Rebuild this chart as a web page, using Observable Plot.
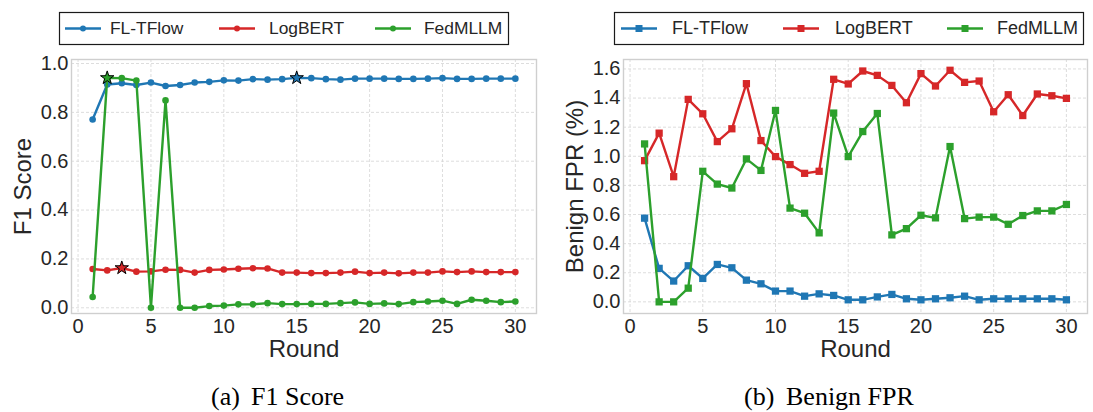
<!DOCTYPE html>
<html><head><meta charset="utf-8">
<script src="https://cdn.jsdelivr.net/npm/d3@7"></script>
<script src="https://cdn.jsdelivr.net/npm/@observablehq/plot@0.6"></script>
<style>
html,body{margin:0;padding:0;background:#fff;}
#root{position:relative;width:1093px;height:412px;overflow:hidden;background:#fff;}
#root > *{position:absolute;}
</style></head><body><div id="root"></div>
<script>
// ---- data ----
const rounds = [1,2,3,4,5,6,7,8,9,10,11,12,13,14,15,16,17,18,19,20,21,22,23,24,25,26,27,28,29,30];
const methods = ["FL-TFlow", "LogBERT", "FedMLLM"];
const colors = ["#1f77b4", "#d62728", "#2ca02c"];

const f1FLTFlow = [0.771,0.914,0.919,0.912,0.922,0.908,0.912,0.922,0.925,0.931,0.930,0.936,0.934,0.936,0.941,0.940,0.936,0.934,0.938,0.938,0.938,0.937,0.937,0.938,0.940,0.937,0.937,0.938,0.938,0.938];
const f1LogBERT = [0.159,0.153,0.163,0.148,0.149,0.156,0.155,0.144,0.155,0.157,0.160,0.162,0.161,0.144,0.144,0.142,0.142,0.144,0.148,0.142,0.144,0.141,0.144,0.144,0.149,0.146,0.149,0.146,0.146,0.146];
const f1FedMLLM = [0.044,0.941,0.940,0.930,0.000,0.849,0.000,0.000,0.007,0.009,0.014,0.014,0.019,0.015,0.015,0.016,0.016,0.019,0.022,0.016,0.018,0.015,0.023,0.026,0.029,0.016,0.033,0.029,0.023,0.026];
const bestF1Round = [15, 3, 2]; // starred rounds, one per method

const fprFLTFlow = [0.575,0.230,0.143,0.248,0.161,0.257,0.234,0.149,0.124,0.074,0.074,0.039,0.055,0.044,0.014,0.014,0.034,0.051,0.021,0.014,0.021,0.028,0.039,0.014,0.021,0.021,0.021,0.021,0.021,0.014];
const fprLogBERT = [0.970,1.159,0.860,1.391,1.292,1.101,1.189,1.499,1.108,0.998,0.943,0.883,0.897,1.529,1.497,1.586,1.556,1.487,1.368,1.568,1.483,1.591,1.508,1.517,1.306,1.423,1.280,1.428,1.416,1.398];
const fprFedMLLM = [1.085,0.000,0.000,0.094,0.897,0.809,0.782,0.982,0.903,1.315,0.644,0.609,0.474,1.297,0.998,1.170,1.294,0.460,0.503,0.595,0.577,1.067,0.572,0.582,0.582,0.533,0.593,0.625,0.625,0.669];

const xTicks = [0,5,10,15,20,25,30];
const f1Ticks = [0.0,0.2,0.4,0.6,0.8,1.0];
const fprTicks = [0.0,0.2,0.4,0.6,0.8,1.0,1.2,1.4,1.6];

const f1Series = [f1FLTFlow, f1LogBERT, f1FedMLLM];
const fprSeries = [fprFLTFlow, fprLogBERT, fprFedMLLM];

// ---- helpers ----
const root = d3.select("#root");
const SANS = "'Liberation Sans', Arial, sans-serif";
const SERIF = "'Liberation Serif', 'Times New Roman', serif";
const INK = "#262626";

function panel({series, ticks, yDomain, yLabel, symbol, r, left, width, marginLeft, marginRight, stars}) {
  const rows = series.map((vals, k) => rounds.map((rd, i) => ({round: rd, value: vals[i], method: methods[k]})));
  const marks = [
    Plot.gridX(xTicks, {stroke: "#d4d4d4", strokeOpacity: 1, strokeWidth: 0.8, strokeDasharray: "3,2"}),
    Plot.gridY(ticks, {stroke: "#d4d4d4", strokeOpacity: 1, strokeWidth: 0.8, strokeDasharray: "3,2"}),
    Plot.frame({stroke: "#cfcfcf", strokeWidth: 1.4}),
    Plot.axisX({ticks: xTicks, tickSize: 0, tickPadding: 5, fontSize: 20, label: null, tickFormat: d3.format("d")}),
    Plot.axisY({ticks: ticks, tickSize: 0, tickPadding: 3, fontSize: 20, label: null, tickFormat: d3.format(".1f")})
  ];
  rows.forEach((d, k) => {
    marks.push(Plot.line(d, {x: "round", y: "value", stroke: colors[k], strokeWidth: 2.4}));
    marks.push(Plot.dot(d, {x: "round", y: "value", symbol, r, fill: colors[k], stroke: "none"}));
  });
  if (stars) {
    rows.forEach((d, k) => {
      marks.push(Plot.dot(d.filter(p => p.round === stars[k]), {x: "round", y: "value", symbol: "star", r: 4.2, fill: colors[k], stroke: "black", strokeWidth: 1}));
    });
  }
  marks.push(Plot.text([yLabel], {frameAnchor: "left", rotate: -90, textAnchor: "middle", lineAnchor: "bottom", dx: -41, fontSize: 24, fill: INK}));
  marks.push(Plot.text(["Round"], {frameAnchor: "bottom", textAnchor: "middle", lineAnchor: "bottom", dy: 43, fontSize: 24, fill: INK}));
  const chart = Plot.plot({
    width, height: 322,
    marginTop: 9, marginBottom: 59, marginLeft, marginRight,
    style: {fontFamily: SANS, fontSize: "20px", color: INK, background: "transparent", overflow: "visible"},
    x: {type: "linear", domain: [-0.45, 31.45]},
    y: {type: "linear", domain: yDomain},
    marks
  });
  d3.select(chart).style("position", "absolute").style("left", left + "px").style("top", "50px");
  root.node().appendChild(chart);
}

panel({series: f1Series, ticks: f1Ticks, yDomain: [-0.0234, 1.0164], yLabel: "F1 Score", symbol: "circle", r: 3.3,
       left: 0, width: 546, marginLeft: 71, marginRight: 10, stars: bestF1Round});
panel({series: fprSeries, ticks: fprTicks, yDomain: [-0.08, 1.665], yLabel: "Benign FPR (%)", symbol: "square", r: 4.1,
       left: 546, width: 547, marginLeft: 77, marginRight: 6, stars: null});

// ---- legends ----
function legend({x, w, lineX, textX, fontSize, marker}) {
  const svg = root.append("svg").attr("width", w + 2).attr("height", 36)
    .style("left", (x - 1) + "px").style("top", "11px");
  svg.append("rect").attr("x", 1.5).attr("y", 1.5).attr("width", w - 1).attr("height", 32)
    .attr("fill", "white").attr("stroke", "#1a1a1a").attr("stroke-width", 1.2);
  methods.forEach((m, k) => {
    const lx = lineX[k] - x + 1, cy = 17.5;
    svg.append("line").attr("x1", lx).attr("x2", lx + 36).attr("y1", cy).attr("y2", cy)
      .attr("stroke", colors[k]).attr("stroke-width", 2.4);
    if (marker === "circle") svg.append("circle").attr("cx", lx + 18).attr("cy", cy).attr("r", 3).attr("fill", colors[k]);
    else svg.append("rect").attr("x", lx + 18 - 3.5).attr("y", cy - 3.5).attr("width", 7).attr("height", 7).attr("fill", colors[k]);
    svg.append("text").attr("x", textX[k] - x + 1).attr("y", 23.3).text(m)
      .attr("font-family", SANS).attr("font-size", fontSize).attr("fill", INK);
  });
}
legend({x: 59, w: 450, lineX: [65, 219, 375], textX: [110, 269, 424], fontSize: 17.4, marker: "circle"});
legend({x: 614, w: 470, lineX: [621, 783, 947], textX: [672, 835, 997], fontSize: 18, marker: "square"});

// ---- captions ----
function caption(x1, t1, x2, t2) {
  const svg = root.append("svg").attr("width", 300).attr("height", 40).style("left", (x1 - 2) + "px").style("top", "375px");
  svg.append("text").attr("x", 2).attr("y", 30).text(t1).attr("font-family", SERIF).attr("font-size", 26).attr("fill", "black");
  svg.append("text").attr("x", x2 - x1 + 2).attr("y", 30).text(t2).attr("font-family", SERIF).attr("font-size", 26).attr("fill", "black");
}
caption(211, "(a)", 251, "F1 Score");
caption(744, "(b)", 786, "Benign FPR");
</script>
</body></html>
